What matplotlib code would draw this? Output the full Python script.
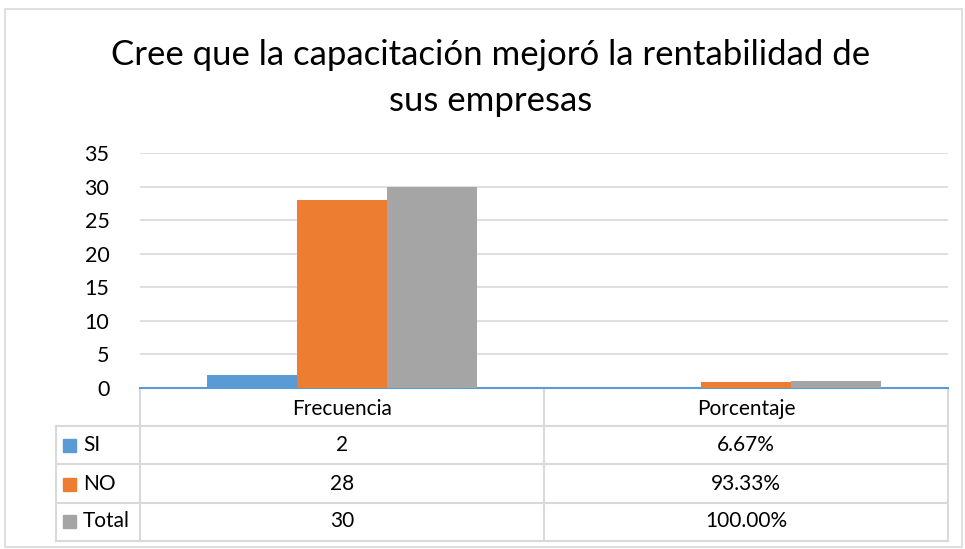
import matplotlib.pyplot as plt
from matplotlib.patches import Rectangle
from matplotlib.transforms import blended_transform_factory
import numpy as np

categories = ["Frecuencia", "Porcentaje"]
series = ["SI", "NO", "Total"]
frecuencia = [2, 28, 30]
porcentaje = [6.67, 93.33, 100.00]
colors = ["#5b9bd5", "#ed7d31", "#a5a5a5"]

W, H = 965, 549
plt.rcParams["font.family"] = ["Lato", "DejaVu Sans"]


def fx(px):
    return px / W


def fy(py):
    return 1 - py / H


fig = plt.figure(figsize=(W / 100, H / 100), dpi=100)
fig.patches.append(Rectangle((fx(5), fy(547)), fx(957), 538 / H, transform=fig.transFigure,
                             fill=False, edgecolor="#d9d9d9", linewidth=1.2))

ax = fig.add_axes([fx(140), fy(388), fx(948 - 140), (388 - 153) / H])

# percentages are plotted as fractions on the same axis, like the source sheet
values = np.array([frecuencia, [p / 100 for p in porcentaje]]).T
x = np.arange(len(categories))
width = 0.223
for i, name in enumerate(series):
    ax.bar(x + (i - 1) * width, values[i], width=width * 0.99, color=colors[i], zorder=3)

ax.set_xlim(-0.5, 1.5)
ax.set_ylim(0, 35)
ax.set_yticks(range(0, 36, 5))
ax.tick_params(axis="y", length=0, pad=22, labelsize=15.5, labelcolor="#000000")
ax.set_xticks([])
ax.grid(axis="y", color="#d9d9d9", linewidth=1.2, zorder=0)
for side in ["top", "right", "left"]:
    ax.spines[side].set_visible(False)
ax.spines["bottom"].set_color("#5b9bd5")
ax.spines["bottom"].set_linewidth(1.5)

fig.text(fx(491), fy(55), "Cree que la capacitación mejoró la rentabilidad de",
         ha="center", va="center", fontsize=25, color="#000000")
fig.text(fx(491), fy(101), "sus empresas", ha="center", va="center", fontsize=25, color="#000000")

# data table under the plot
tr = blended_transform_factory(ax.transAxes, fig.transFigure)
grid_c = "#d9d9d9"
row_y = [426, 464, 503, 541]
left = (56 - 140) / 808
for yy in row_y:
    ax.plot([left, 1], [fy(yy), fy(yy)], color=grid_c, lw=1.5, transform=tr, clip_on=False)
for xx in [0, 0.5, 1]:
    ax.plot([xx, xx], [fy(390), fy(541)], color=grid_c, lw=1.5, transform=tr, clip_on=False)
ax.plot([left, left], [fy(426), fy(541)], color=grid_c, lw=1.5, transform=tr, clip_on=False)

fs = 15
for j, cat in enumerate(categories):
    ax.text(0.25 + 0.5 * j, fy(409), cat, ha="center", va="center", fontsize=fs,
            transform=tr, clip_on=False)

row_centers = [445, 484, 521]
for i, name in enumerate(series):
    yc = fy(row_centers[i])
    fig.patches.append(Rectangle((fx(63), yc - 6.5 / H), fx(13), 13 / H,
                                 transform=fig.transFigure, color=colors[i]))
    fig.text(fx(83), yc, name, ha="left", va="center", fontsize=fs)
    ax.text(0.25, yc, f"{frecuencia[i]}", ha="center", va="center", fontsize=fs,
            transform=tr, clip_on=False)
    ax.text(0.75, yc, f"{porcentaje[i]:.2f}%", ha="center", va="center", fontsize=fs,
            transform=tr, clip_on=False)

fig.savefig("out.png", dpi=100)
